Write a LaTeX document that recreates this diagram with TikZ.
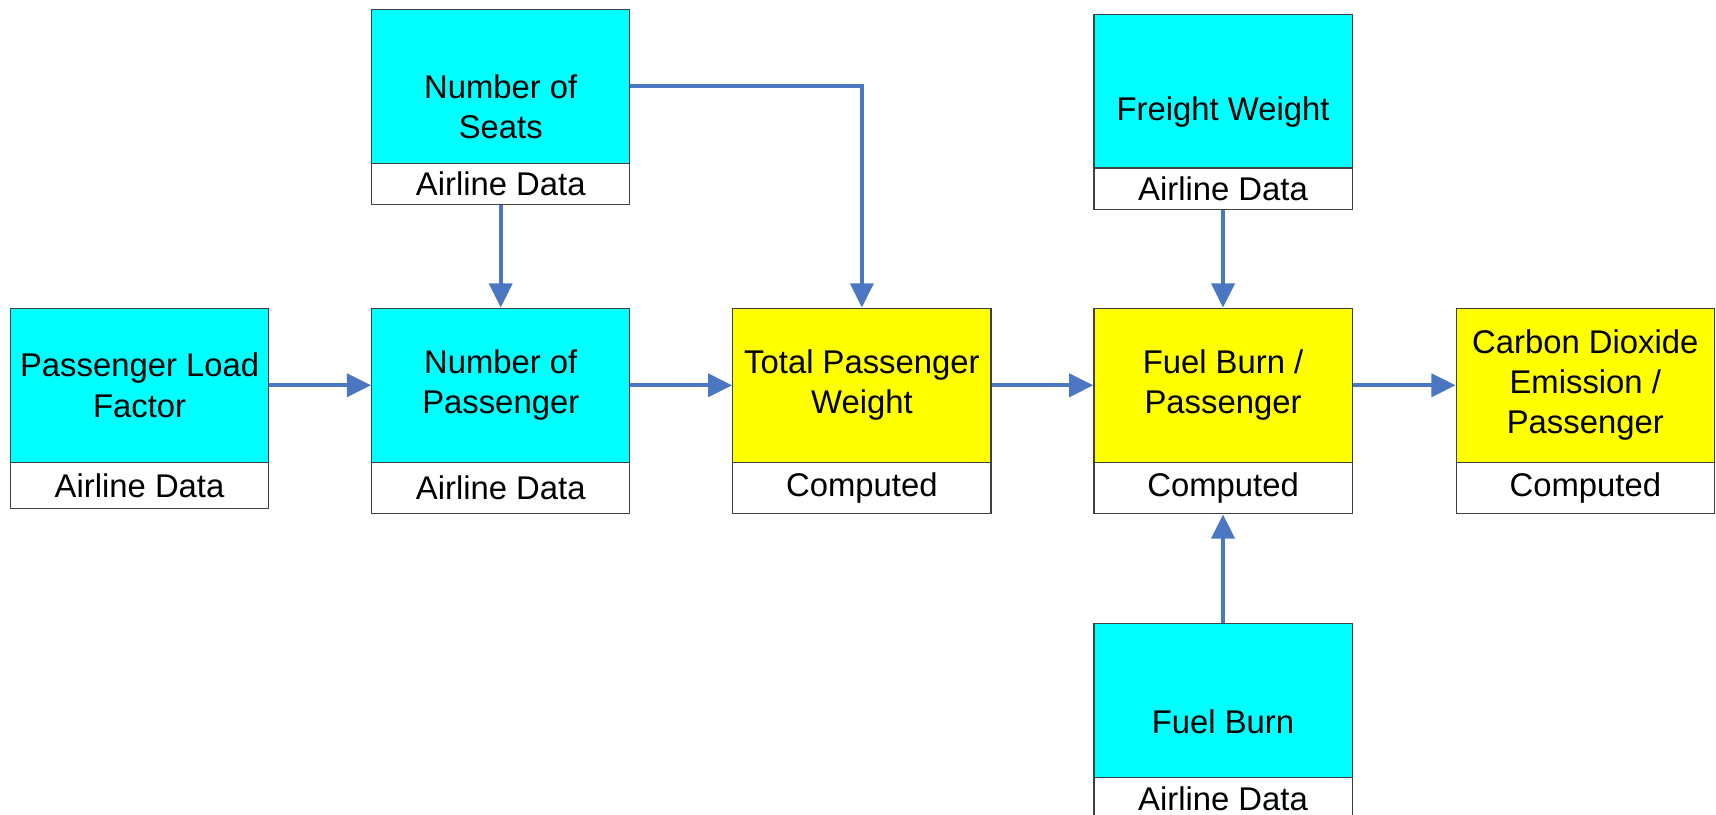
\documentclass[tikz,border=0pt]{standalone}
\usepackage{fontspec}
\setmainfont{Liberation Sans}
\usetikzlibrary{arrows.meta}
\definecolor{boxcyan}{HTML}{00FFFF}
\definecolor{boxyellow}{HTML}{FFFF00}
\definecolor{arrowblue}{HTML}{4A76C2}
\definecolor{edgegray}{HTML}{404040}
\tikzset{
  base/.style={draw=edgegray, line width=0.55pt, rectangle, inner sep=0pt, anchor=north west,
    minimum width=118pt, align=center, font=\fontsize{15}{18.3}\selectfont},
  datapart/.style={base, fill=boxcyan},
  comppart/.style={base, fill=boxyellow},
  labelpart/.style={base, fill=white},
  flow/.style={draw=arrowblue, line width=1.7pt, -{Triangle[length=11pt,width=10.5pt]}}
}
\begin{document}
\begin{tikzpicture}[x=0.5pt,y=-0.5pt]
\useasboundingbox (0,0) rectangle (1568,744);
\clip (0,0) rectangle (1568,744);
% Passenger Load Factor
\node[datapart, minimum height=70.5pt] (plf) at (9,281) {Passenger Load\\Factor};
\node[labelpart, minimum height=21pt] (plfl) at (9,422) {Airline Data};
% Number of Seats (text centred on whole box)
\node[datapart, minimum height=89pt] (seats) at (339,8) {Number of\\Seats};
\node[labelpart, minimum height=18.75pt] (seatsl) at (339,148.5) {Airline Data};
% Number of Passenger
\node[datapart, minimum height=70.5pt] (nop) at (339,281) {Number of\\Passenger};
\node[labelpart, minimum height=23.5pt] (nopl) at (339,422) {Airline Data};
% Total Passenger Weight
\node[comppart, minimum height=70.5pt] (tpw) at (669,281) {Total Passenger\\Weight};
\node[labelpart, minimum height=23.5pt] (tpwl) at (669,422) {Computed};
% Freight Weight
\node[datapart, minimum height=89pt] (fw) at (999,13) {Freight Weight};
\node[labelpart, minimum height=19pt] (fwl) at (999,153) {Airline Data};
% Fuel Burn / Passenger
\node[comppart, minimum height=70.5pt] (fbp) at (999,281) {Fuel Burn /\\Passenger};
\node[labelpart, minimum height=23.5pt] (fbpl) at (999,422) {Computed};
% Carbon Dioxide Emission / Passenger
\node[comppart, minimum height=70.5pt] (co2) at (1330,281) {Carbon Dioxide\\Emission /\\Passenger};
\node[labelpart, minimum height=23.5pt] (co2l) at (1330,422) {Computed};
% Fuel Burn
\node[datapart, minimum height=89.5pt] (fb) at (999,569) {Fuel Burn};
\node[labelpart, minimum height=19pt] (fbl) at (999,710) {Airline Data};
% Connectors
\draw[flow] (plf.east) -- (nop.west);
\draw[flow] (nop.east) -- (tpw.west);
\draw[flow] (tpw.east) -- (fbp.west);
\draw[flow] (fbp.east) -- (co2.west);
\draw[flow] (seatsl.south) -- (nop.north);
\coordinate (seatsR) at ([yshift=9.5pt]seats.east);
\draw[flow] (seatsR) -| (tpw.north);
\draw[flow] (fwl.south) -- (fbp.north);
\draw[flow] (fb.north) -- (fbpl.south);
\end{tikzpicture}
\end{document}
